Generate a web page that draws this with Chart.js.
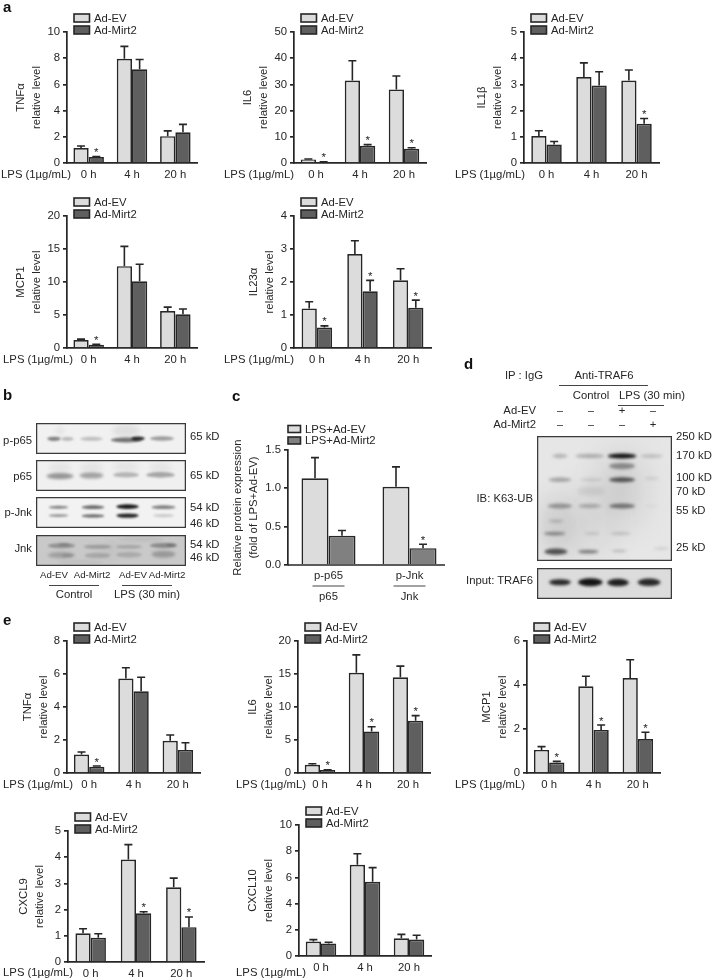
<!DOCTYPE html>
<html>
<head>
<meta charset="utf-8">
<title>Figure</title>
<script src="https://cdn.jsdelivr.net/npm/chart.js@4/dist/chart.umd.min.js"></script>
<style>
  html, body { margin: 0; padding: 0; background: #fff; }
  #page { position: relative; width: 712px; height: 980px; overflow: hidden; font-family: "Liberation Sans", sans-serif; color: #262626; }
  #page canvas { position: absolute; }
  .t { position: absolute; white-space: nowrap; line-height: 1; will-change: transform; }
  .l { position: absolute; height: 1px; background: #444; }
</style>
</head>
<body>
<div id="page"></div>
<script>
// values
const hours = ["0 h", "4 h", "20 h"];
const seriesEv = "Ad-EV";
const seriesMirt = "Ad-Mirt2";

const aTnfEv = [1.15, 7.95, 2.05], aTnfMirt = [0.45, 7.15, 2.35];
const aTnfEvTop = [1.3, 8.9, 2.45], aTnfMirtTop = [0.5, 7.9, 2.95];
const aTnfStars = [1, 0, 0];

const aIl6Ev = [1.3, 31.5, 28.1], aIl6Mirt = [0.4, 6.6, 5.4];
const aIl6EvTop = [1.5, 39, 33.2], aIl6MirtTop = [0.5, 7, 5.8];
const aIl6Stars = [1, 1, 1];

const aIl1Ev = [1.03, 3.28, 3.15], aIl1Mirt = [0.71, 2.96, 1.5];
const aIl1EvTop = [1.23, 3.82, 3.55], aIl1MirtTop = [0.82, 3.48, 1.7];
const aIl1Stars = [0, 0, 1];

const aMcpEv = [1.2, 12.4, 5.6], aMcpMirt = [0.5, 10.1, 5.1];
const aMcpEvTop = [1.35, 15.4, 6.2], aMcpMirtTop = [0.55, 12.7, 5.9];
const aMcpStars = [1, 0, 0];

const aIl23Ev = [1.2, 2.85, 2.05], aIl23Mirt = [0.62, 1.72, 1.22];
const aIl23EvTop = [1.4, 3.25, 2.4], aIl23MirtTop = [0.67, 2.05, 1.45];
const aIl23Stars = [1, 1, 1];

const eTnfEv = [1.12, 5.72, 1.95], eTnfMirt = [0.38, 4.95, 1.4];
const eTnfEvTop = [1.27, 6.38, 2.3], eTnfMirtTop = [0.42, 5.8, 1.83];
const eTnfStars = [1, 0, 0];

const eIl6Ev = [1.25, 15.2, 14.5], eIl6Mirt = [0.45, 6.3, 7.9];
const eIl6EvTop = [1.4, 17.9, 16.2], eIl6MirtTop = [0.5, 7, 8.7];
const eIl6Stars = [1, 1, 1];

const eMcpEv = [1.05, 3.94, 4.32], eMcpMirt = [0.48, 1.96, 1.54];
const eMcpEvTop = [1.2, 4.4, 5.15], eMcpMirtTop = [0.53, 2.18, 1.85];
const eMcpStars = [1, 1, 1];

const eCxcl9Ev = [1.1, 3.91, 2.85], eCxcl9Mirt = [0.93, 1.86, 1.33];
const eCxcl9EvTop = [1.27, 4.48, 3.2], eCxcl9MirtTop = [1.08, 1.92, 1.72];
const eCxcl9Stars = [0, 1, 1];

const eCxcl10Ev = [1.1, 6.96, 1.36], eCxcl10Mirt = [0.96, 5.66, 1.26];
const eCxcl10EvTop = [1.25, 7.8, 1.65], eCxcl10MirtTop = [1.05, 6.75, 1.58];
const eCxcl10Stars = [0, 0, 0];

const cCats = [["p-p65", "p65"], ["p-Jnk", "Jnk"]];
const cSeriesEv = "LPS+Ad-EV", cSeriesMirt = "LPS+Ad-Mirt2";
const cEv = [1.13, 1.02], cMirt = [0.38, 0.22];
const cEvTop = [1.4, 1.28], cMirtTop = [0.45, 0.27];
const cStars = [0, 1];

// blot bands: lane x %, position y %, width %, height %, darkness
const bandsPP65 = [[12, 51, 9, 14, .5], [21, 51, 8, 12, .25], [37, 51, 15, 13, .22], [60, 55, 20, 16, .55], [68, 50, 9, 13, .85], [60, 25, 18, 40, .08], [84, 50, 16, 14, .38], [16, 25, 6, 30, .05]];
const bandsP65 = [[16, 52, 18, 20, .4], [37, 50, 16, 20, .34], [60, 48, 17, 17, .26], [83, 48, 19, 18, .32], [16, 25, 15, 35, .05], [37, 25, 15, 35, .05], [60, 22, 17, 35, .05], [83, 25, 15, 35, .05]];
const bandsPJnk = [[15, 33, 13, 9, .5], [15, 60, 13, 9, .42], [38, 33, 15, 12, .6], [38, 61, 15, 11, .6], [61, 31, 15, 15, .95], [61, 60, 15, 14, .9], [85, 33, 16, 12, .5], [85, 60, 14, 10, .18]];
const bandsJnk = [[17, 35, 18, 16, .3], [19, 30, 8, 8, .2], [17, 65, 18, 20, .22], [21, 66, 7, 10, .14], [41, 38, 18, 13, .24], [41, 66, 17, 18, .18], [62, 38, 17, 13, .18], [62, 64, 17, 18, .16], [85, 34, 18, 16, .34], [90, 32, 6, 10, .2], [85, 62, 16, 22, .26], [30, 88, 30, 14, .05], [70, 14, 30, 16, .05], [50, 50, 10, 60, .04]];
const bandsK63 = [
  [17, 16, 11, 3.5, .22], [17, 35, 17, 3.5, .3], [17, 56, 18, 4, .34], [14, 68, 11, 3, .16], [13, 78, 16, 3, .4], [14, 92.5, 17, 5, .68], [15, 72, 26, 46, .12],
  [39, 16, 21, 3.5, .25], [40, 35, 16, 3, .1], [40, 44, 20, 7, .08], [39, 56, 17, 3.5, .24], [41, 78, 11, 2.5, .12], [38, 92.5, 15, 3, .46], [40, 68, 26, 58, .08],
  [63, 16, 21, 4, 1], [63, 24, 19, 5, .4], [63, 35, 19, 4, .66], [63, 56, 19, 4, .5], [62, 78, 15, 2.5, .17], [61, 92, 11, 2.5, .18], [63, 42, 26, 58, .14],
  [85, 16, 16, 3, .18], [85, 34, 11, 2.5, .09], [85, 56, 9, 2.5, .04], [92, 90, 11, 2.5, .1]
];
const bandsInput = [[17, 46, 16, 20, .88], [39.5, 46, 18, 26, .98], [60, 47, 16, 24, .92], [83, 46, 17, 24, .88]];

const page = document.getElementById("page");
const darkInk = "#262626";

function txt(s, x, y, align, size, weight) {
  const d = document.createElement("div");
  d.className = "t";
  d.textContent = s;
  d.style.left = x + "px";
  d.style.top = y + "px";
  d.style.fontSize = (size || 11.3) + "px";
  if (weight) { d.style.fontWeight = weight; d.style.color = "#111"; }
  const tx = align === "r" ? "-100%" : align === "c" ? "-50%" : "0";
  d.style.transform = "translate(" + tx + ",-50%)";
  page.appendChild(d);
}

function line(x1, x2, y) {
  const d = document.createElement("div");
  d.className = "l";
  d.style.left = x1 + "px";
  d.style.width = (x2 - x1) + "px";
  d.style.top = y + "px";
  page.appendChild(d);
}

const barExtras = {
  id: "barExtras",
  afterDatasetsDraw(chart, args, o) {
    const ctx = chart.ctx, ys = chart.scales.y, area = chart.chartArea;
    ctx.save();
    ctx.strokeStyle = darkInk;
    ctx.lineWidth = 1.6;
    chart.data.datasets.forEach((ds, i) => {
      chart.getDatasetMeta(i).data.forEach((bar, k) => {
        const yTop = ys.getPixelForValue(ds.errTop[k]);
        const yBar = ys.getPixelForValue(ds.data[k]);
        ctx.beginPath();
        ctx.moveTo(bar.x, yBar);
        ctx.lineTo(bar.x, yTop);
        ctx.moveTo(bar.x - 4, yTop);
        ctx.lineTo(bar.x + 4, yTop);
        ctx.stroke();
        if (ds.stars && ds.stars[k]) {
          ctx.fillStyle = darkInk;
          ctx.font = "11.5px 'Liberation Sans'";
          ctx.textAlign = "center";
          ctx.textBaseline = "alphabetic";
          ctx.fillText("*", bar.x, yTop - 0.5);
        }
      });
    });
    // baseline for the panel where it stops short of the plot edge
    if (o.axisEnd) {
      ctx.lineWidth = 1.7;
      ctx.beginPath();
      ctx.moveTo(area.left, area.bottom);
      ctx.lineTo(area.left + o.axisEnd, area.bottom);
      ctx.stroke();
    }
    // legend
    ctx.lineWidth = 1.6;
    ctx.textBaseline = "middle";
    ctx.textAlign = "left";
    ctx.font = "11.3px 'Liberation Sans'";
    chart.data.datasets.forEach((ds, i) => {
      const y = area.top + o.legendY[i];
      ctx.fillStyle = ds.backgroundColor;
      ctx.fillRect(area.left + o.legendX, y - o.boxH / 2, o.boxW, o.boxH);
      ctx.strokeRect(area.left + o.legendX, y - o.boxH / 2, o.boxW, o.boxH);
      ctx.fillStyle = darkInk;
      ctx.fillText(ds.label, area.left + o.legendX + o.boxW + 4.5, y + 0.5);
    });
    // rule between the ratio labels
    if (o.ratioLines) {
      chart.scales.x.ticks.forEach((tk, k) => {
        const px = chart.scales.x.getPixelForTick(k);
        ctx.lineWidth = 1;
        ctx.strokeStyle = "#444";
        ctx.beginPath();
        ctx.moveTo(px - 16, area.bottom + o.ratioLines);
        ctx.lineTo(px + 16, area.bottom + o.ratioLines);
        ctx.stroke();
      });
    }
    ctx.restore();
  }
};

function barPanel(p) {
  const W = 70, pad = 28, right = 8;
  const bottom = p.bottom || 22;
  const c = document.createElement("canvas");
  c.width = W + p.w + right;
  c.height = pad + p.h + bottom;
  c.style.left = (p.x - W) + "px";
  c.style.top = (p.top - pad) + "px";
  page.appendChild(c);
  const catW = p.w / p.cats.length;
  new Chart(c, {
    type: "bar",
    data: {
      labels: p.cats,
      datasets: [
        { label: p.evName || seriesEv, data: p.ev, errTop: p.evTop, backgroundColor: "#dcdcdc", borderColor: darkInk, borderWidth: 1.7, borderSkipped: "bottom" },
        { label: p.mirtName || seriesMirt, data: p.mirt, errTop: p.mirtTop, stars: p.stars, backgroundColor: p.mirtColor || "#5f5f5f", borderColor: darkInk, borderWidth: 1.7, borderSkipped: "bottom" }
      ]
    },
    options: {
      responsive: false,
      animation: false,
      devicePixelRatio: 1,
      layout: { padding: { top: pad, right: right, left: 0, bottom: 0 } },
      categoryPercentage: (p.barW || 30.5) / catW,
      barPercentage: 1,
      plugins: {
        legend: { display: false },
        tooltip: { enabled: false },
        barExtras: {
          legendY: p.legendY || [-14, -2],
          legendX: p.legendX === undefined ? 7 : p.legendX,
          boxW: p.boxW || 15.5,
          boxH: p.boxH || 8,
          axisEnd: p.axisEnd,
          ratioLines: p.ratioLines
        }
      },
      scales: {
        x: {
          afterFit: s => { s.height = bottom; },
          grid: { display: false, drawTicks: false },
          border: p.axisEnd ? { display: false } : { color: darkInk, width: 1.7 },
          ticks: { color: darkInk, font: { family: "Liberation Sans", size: 11.3, lineHeight: p.tickLine || 1.2 }, padding: p.tickPad === undefined ? 5 : p.tickPad, maxRotation: 0, autoSkip: false }
        },
        y: {
          min: 0,
          max: p.yMax,
          afterFit: s => { s.width = W; },
          grid: { drawOnChartArea: false, color: darkInk, lineWidth: 1.7, tickLength: 4 },
          border: { color: darkInk, width: 1.7 },
          ticks: {
            stepSize: p.step,
            color: darkInk,
            padding: 3,
            font: { family: "Liberation Sans", size: 11.3 },
            callback: p.fixed ? v => v.toFixed(1) : undefined
          },
          title: {
            display: true,
            text: p.title,
            color: darkInk,
            font: { family: "Liberation Sans", size: p.titleSize || 11.3, lineHeight: "15.5px" },
            padding: { top: W - p.off - 7.75, bottom: 0 }
          }
        }
      }
    },
    plugins: [barExtras]
  });
}

const blotDraw = {
  id: "blotDraw",
  beforeDatasetsDraw(chart, args, o) {
    const ctx = chart.ctx, a = chart.chartArea, xs = chart.scales.x, ys = chart.scales.y;
    ctx.save();
    ctx.fillStyle = o.bg;
    ctx.fillRect(a.left, a.top, a.right - a.left, a.bottom - a.top);
    chart.data.datasets[0].data.forEach(b => {
      const px = xs.getPixelForValue(b.x), py = ys.getPixelForValue(b.y);
      const rx = Math.abs(xs.getPixelForValue(b.w) - xs.getPixelForValue(0)) / 2;
      const ry = Math.abs(ys.getPixelForValue(b.h) - ys.getPixelForValue(0)) / 2;
      // wide smears need a softer edge than the sharp bands
      ctx.filter = "blur(" + Math.max(o.blur, ry * 0.45) + "px)";
      ctx.fillStyle = "rgba(15,15,15," + b.d + ")";
      ctx.beginPath();
      ctx.ellipse(px, py, rx, ry, 0, 0, Math.PI * 2);
      ctx.fill();
    });
    ctx.filter = "none";
    ctx.strokeStyle = "#3a3a3a";
    ctx.lineWidth = 1.3;
    ctx.strokeRect(a.left + 0.6, a.top + 0.6, a.right - a.left - 1.2, a.bottom - a.top - 1.2);
    ctx.restore();
  }
};

function blot(x, y, w, h, bands, bg, blur) {
  const c = document.createElement("canvas");
  c.width = w;
  c.height = h;
  c.style.left = x + "px";
  c.style.top = y + "px";
  page.appendChild(c);
  new Chart(c, {
    type: "scatter",
    data: {
      datasets: [{
        data: bands.map(b => ({ x: b[0], y: b[1], w: b[2], h: b[3], d: b[4] })),
        pointRadius: 0
      }]
    },
    options: {
      responsive: false,
      animation: false,
      devicePixelRatio: 1,
      plugins: { legend: { display: false }, tooltip: { enabled: false }, blotDraw: { bg: bg, blur: blur || 1.2 } },
      scales: {
        x: { display: false, min: 0, max: 100 },
        y: { display: false, min: 0, max: 100, reverse: true }
      }
    },
    plugins: [blotDraw]
  });
}

// panel a
barPanel({ x: 67, w: 130, top: 32, h: 131, cats: hours, ev: aTnfEv, mirt: aTnfMirt, evTop: aTnfEvTop, mirtTop: aTnfMirtTop, stars: aTnfStars, yMax: 10, step: 2, title: ["TNFα", "relative level"], off: 46 });
barPanel({ x: 294, w: 132, top: 32, h: 131, cats: hours, ev: aIl6Ev, mirt: aIl6Mirt, evTop: aIl6EvTop, mirtTop: aIl6MirtTop, stars: aIl6Stars, yMax: 50, step: 10, title: ["IL6", "relative level"], off: 46 });
barPanel({ x: 524, w: 135, top: 32, h: 131, cats: hours, ev: aIl1Ev, mirt: aIl1Mirt, evTop: aIl1EvTop, mirtTop: aIl1MirtTop, stars: aIl1Stars, yMax: 5, step: 1, title: ["IL1β", "relative level"], off: 42 });
barPanel({ x: 67, w: 130, top: 216, h: 132, cats: hours, ev: aMcpEv, mirt: aMcpMirt, evTop: aMcpEvTop, mirtTop: aMcpMirtTop, stars: aMcpStars, yMax: 20, step: 5, title: ["MCP1", "relative level"], off: 46 });
barPanel({ x: 294, w: 137, top: 216, h: 132, cats: hours, ev: aIl23Ev, mirt: aIl23Mirt, evTop: aIl23EvTop, mirtTop: aIl23MirtTop, stars: aIl23Stars, yMax: 4, step: 1, title: ["IL23α", "relative level"], off: 40 });

// panel c
barPanel({ x: 288, w: 162, top: 450, h: 115, cats: cCats, ev: cEv, mirt: cMirt, evTop: cEvTop, mirtTop: cMirtTop, stars: cStars, yMax: 1.5, step: 0.5, fixed: true, title: ["Relative protein expression", "(fold of LPS+Ad-EV)"], off: 50, barW: 54, evName: cSeriesEv, mirtName: cSeriesMirt, mirtColor: "#808080", legendY: [-21, -9.5], legendX: 0, boxW: 12.5, boxH: 7, axisEnd: 157, ratioLines: 21, bottom: 44, tickLine: "21px", tickPad: 0 });

// panel e
barPanel({ x: 67, w: 133, top: 641, h: 132, cats: hours, ev: eTnfEv, mirt: eTnfMirt, evTop: eTnfEvTop, mirtTop: eTnfMirtTop, stars: eTnfStars, yMax: 8, step: 2, title: ["TNFα", "relative level"], off: 39 });
barPanel({ x: 298, w: 132, top: 641, h: 132, cats: hours, ev: eIl6Ev, mirt: eIl6Mirt, evTop: eIl6EvTop, mirtTop: eIl6MirtTop, stars: eIl6Stars, yMax: 20, step: 5, title: ["IL6", "relative level"], off: 45 });
barPanel({ x: 527, w: 133, top: 641, h: 132, cats: hours, ev: eMcpEv, mirt: eMcpMirt, evTop: eMcpEvTop, mirtTop: eMcpMirtTop, stars: eMcpStars, yMax: 6, step: 2, title: ["MCP1", "relative level"], off: 40 });
barPanel({ x: 68, w: 136, top: 831, h: 131, cats: hours, ev: eCxcl9Ev, mirt: eCxcl9Mirt, evTop: eCxcl9EvTop, mirtTop: eCxcl9MirtTop, stars: eCxcl9Stars, yMax: 5, step: 1, title: ["CXCL9", "relative level"], off: 44 });
barPanel({ x: 299, w: 132, top: 825, h: 131, cats: hours, ev: eCxcl10Ev, mirt: eCxcl10Mirt, evTop: eCxcl10EvTop, mirtTop: eCxcl10MirtTop, stars: eCxcl10Stars, yMax: 10, step: 2, title: ["CXCL10", "relative level"], off: 46 });

const lpsLabel = "LPS (1µg/mL)";
txt(lpsLabel, 71, 175, "r");
txt(lpsLabel, 294, 175, "r");
txt(lpsLabel, 525, 175, "r");
txt(lpsLabel, 73, 360, "r");
txt(lpsLabel, 294, 360, "r");
txt(lpsLabel, 73, 785, "r");
txt(lpsLabel, 306, 785, "r");
txt(lpsLabel, 525, 785, "r");
txt(lpsLabel, 73, 973, "r");
txt(lpsLabel, 306, 973, "r");

// panel b
blot(36, 423, 150, 31, bandsPP65, "#f1f1f1");
blot(36, 460, 150, 31, bandsP65, "#f0f0f0");
blot(36, 497, 150, 31, bandsPJnk, "#f2f2f2", 0.9);
blot(36, 535, 150, 31, bandsJnk, "#c9c9c9", 1.2);
txt("p-p65", 32, 441, "r");
txt("p65", 32, 477, "r");
txt("p-Jnk", 32, 513, "r");
txt("Jnk", 32, 549, "r");
txt("65 kD", 190, 437);
txt("65 kD", 190, 476);
txt("54 kD", 190, 508);
txt("46 kD", 190, 524);
txt("54 kD", 190, 545);
txt("46 kD", 190, 558);
txt("Ad-EV", 54, 575, "c", 9.7);
txt("Ad-Mirt2", 92, 575, "c", 9.7);
txt("Ad-EV", 133, 575, "c", 9.7);
txt("Ad-Mirt2", 167, 575, "c", 9.7);
line(49, 99, 585);
line(122, 172, 585);
txt("Control", 74, 595, "c");
txt("LPS (30 min)", 147, 595, "c");

// panel d
blot(537, 436, 135, 125, bandsK63, "#e6e6e6", 1.7);
blot(537, 568, 135, 31, bandsInput, "#dcdcdc", 1);
txt("IP : IgG", 524, 376, "c");
txt("Anti-TRAF6", 604, 376, "c");
line(559, 648, 385);
txt("Control", 591, 396, "c");
txt("LPS (30 min)", 652, 396, "c");
line(618, 664, 405);
txt("Ad-EV", 536, 411, "r");
txt("Ad-Mirt2", 536, 425, "r");
const laneX = [560, 591, 622, 653];
const rowEv = ["–", "–", "+", "–"], rowMirt = ["–", "–", "–", "+"];
laneX.forEach((x, i) => {
  txt(rowEv[i], x, 411, "c");
  txt(rowMirt[i], x, 425, "c");
});
txt("250 kD", 676, 437);
txt("170 kD", 676, 456);
txt("100 kD", 676, 478);
txt("70 kD", 676, 492);
txt("55 kD", 676, 511);
txt("25 kD", 676, 548);
txt("IB: K63-UB", 533, 499, "r");
txt("Input: TRAF6", 533, 581, "r");

// panel letters
txt("a", 3, 6, "l", 15, "bold");
txt("b", 3, 394, "l", 15, "bold");
txt("c", 232, 395, "l", 15, "bold");
txt("d", 464, 363, "l", 15, "bold");
txt("e", 3, 619, "l", 15, "bold");
</script>
</body>
</html>
